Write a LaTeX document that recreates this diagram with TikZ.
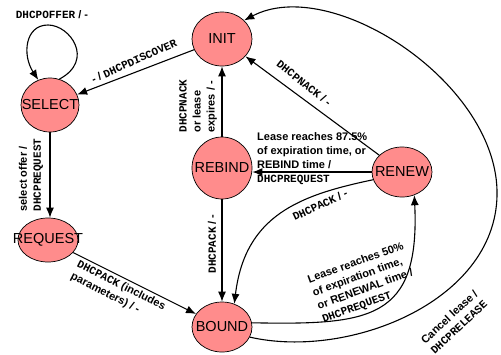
\documentclass[tikz,border=0pt]{standalone}
\usepackage{fontspec}
\setmainfont{Liberation Sans}
\setmonofont{Liberation Mono}
\usetikzlibrary{shapes.geometric,arrows.meta}
\definecolor{statefill}{RGB}{255,140,140}
\newcommand{\mtxt}[1]{{\ttfamily\bfseries #1}}
\begin{document}
\begin{tikzpicture}[x=1pt,y=-1pt,
 st/.style={ellipse, draw=black, line width=0.7pt, fill=statefill, inner sep=0pt, minimum width=60pt, minimum height=54pt},
 sname/.style={font=\fontsize{14.5}{16}\selectfont, inner sep=0pt},
 lb/.style={font=\fontsize{11}{14}\selectfont\bfseries, inner sep=0pt, align=left},
 tr/.style={-{Latex[length=10pt,width=8pt]}, line width=1.1pt}]
\useasboundingbox (0,0) rectangle (501,354);
% states
\node[st] (init) at (222,39) {};
\node[st, minimum width=58pt] (select) at (50,105) {};
\node[st, minimum height=44pt] (request) at (48,240) {};
\node[st, minimum height=62pt] (rebind) at (222,168) {};
\node[st, minimum height=50pt] (renew) at (402,172) {};
\node[st, minimum height=50pt] (bound) at (222,327) {};
\node[sname] (tinit) at (init) {INIT};
\node[sname] (tselect) at (select) {SELECT};
\node[sname] (trequest) at (request) {REQUEST};
\node[sname] (trebind) at (rebind) {REBIND};
\node[sname] (trenew) at (renew) {RENEW};
\node[sname] (tbound) at (bound) {BOUND};
% transitions
\draw[tr] (select.70) .. controls (95,60) and (70,25) .. (48,25) .. controls (25,25) and (22,55) .. (select.115);
\draw[tr] (init) -- (select);
\draw[tr] (select.south) -- (select.south |- request.north);
\draw[tr] (request) -- (bound);
\draw[tr] (rebind) -- (init);
\draw[tr] (rebind) -- (bound);
\draw[tr] (renew) -- (init);
\draw[tr] (renew.west) -- (renew.west -| rebind.east);
\draw[tr] (renew.195) .. controls (300,195) and (245,215) .. (bound.62);
\draw[tr] (bound.8) .. controls (370,325) and (420,320) .. (renew.-62);
\draw[tr] (bound.-20) .. controls (350,360) and (500,300) .. (497,190) .. controls (494,80) and (330,-25) .. (init.40);
% labels
\node[lb] (l1) at (52,15) {\mtxt{DHCPOFFER} / -};
\node[lb, rotate=24] (l2) at (134,61) {- / \mtxt{DHCPDISCOVER}};
\node[lb, rotate=90] (l3) at (31,175) {select offer /\\\mtxt{DHCPREQUEST}};
\node[lb, rotate=90] (l4) at (198,106) {\mtxt{DHCPNACK}\\or lease\\expires / -};
\node[lb, rotate=90] (l5) at (212,244) {\mtxt{DHCPACK} / -};
\node[lb, rotate=-38] (l6) at (304,83) {\mtxt{DHCPNACK} / -};
\node[lb, anchor=west] (l7) at (257,159) {Lease reaches 87.5\%\\of expiration time, or\\REBIND time /\\\mtxt{DHCPREQUEST}};
\node[lb, rotate=25] (l8) at (320,205) {\mtxt{DHCPACK} / -};
\node[lb, rotate=-27] (l9) at (118,292) {\mtxt{DHCPACK} (includes\\parameters) / -};
\node[lb, rotate=20] (l10) at (363,283) {Lease reaches 50\%\\of expiration time,\\or RENEWAL time /\\\mtxt{DHCPREQUEST}};
\node[lb, rotate=43] (l11) at (454,322) {Cancel lease /\\\mtxt{DHCPRELEASE}};
\end{tikzpicture}
\end{document}
